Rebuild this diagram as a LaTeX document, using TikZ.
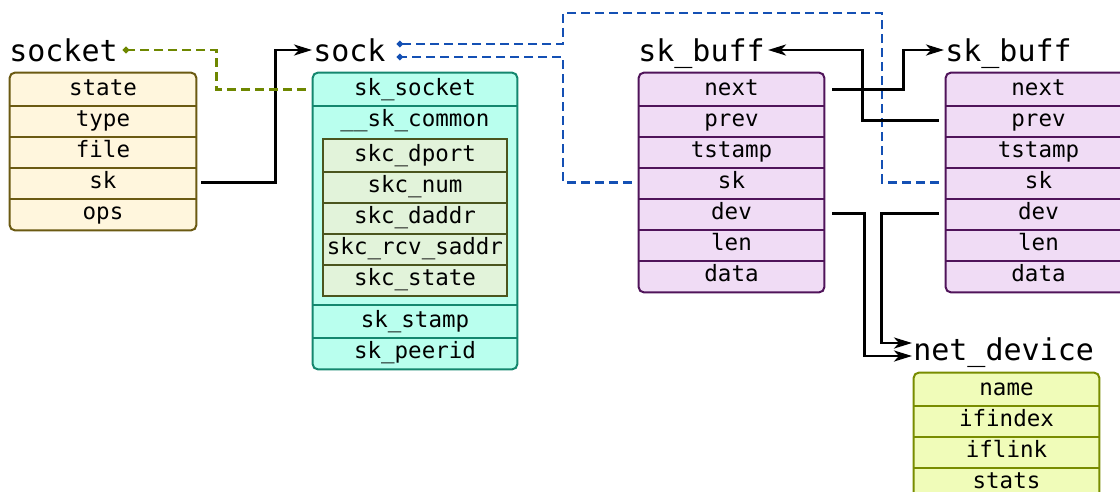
\documentclass[tikz,border=0pt]{standalone}
\usepackage{fontspec}
\setmonofont{DejaVu Sans Mono}
\usetikzlibrary{arrows.meta, fit, backgrounds}

\definecolor{socketfill}{HTML}{FFF6DD}
\definecolor{socketdraw}{HTML}{6B5A12}
\definecolor{sockfill}{HTML}{B9FFEE}
\definecolor{sockdraw}{HTML}{14876E}
\definecolor{comfill}{HTML}{E2F3DA}
\definecolor{comdraw}{HTML}{4B551E}
\definecolor{buffill}{HTML}{F0DCF5}
\definecolor{bufdraw}{HTML}{50145A}
\definecolor{devfill}{HTML}{F0FCB9}
\definecolor{devdraw}{HTML}{788C00}
\definecolor{olivedash}{HTML}{6E8700}
\definecolor{bluedash}{HTML}{1450B4}

\begin{document}
\begin{tikzpicture}[x=1pt, y=-1pt, line width=2.6pt,
      >={Stealth[length=18pt, width=11pt, inset=5pt]},
      title/.style={font=\fontsize{30}{32}\selectfont\ttfamily, inner sep=0pt,
                  text height=22pt, text depth=0pt, anchor=base west},
      fld/.style={font=\fontsize{22.5}{24}\selectfont\ttfamily, inner sep=0pt,
                  minimum height=31pt, text height=17pt, text depth=5pt},
      sbox/.style={draw, line width=2pt, inner sep=0pt, rounded corners=5pt},
      sep/.style={line width=2pt},
      ptr/.style={->, line width=2.6pt},
      gptr/.style={-{Circle[length=6pt]}, olivedash, line width=2.6pt,
                  dash pattern=on 9pt off 5pt},
      bptr/.style={-{Circle[length=6pt]}, bluedash, line width=2.6pt,
                  dash pattern=on 9pt off 5pt}]

    \useasboundingbox (0,0) rectangle (1120,491);
    \clip (0,0) rectangle (1120,491);

    % ---- socket ----
    \node[title] (sockett) at (8,61) {socket};
    \foreach \f [count=\i] in {state,type,file,sk,ops}
      \node[fld, minimum width=184pt] (so\i) at (103, 58.5+31*\i) {\f};
    \foreach \i in {1,...,4}
      \draw[sep, socketdraw] (so\i.south west) -- (so\i.south east);

    % ---- sock ----
    \node[title] (sockt) at (312,61) {sock};
    \node[fld, minimum width=202pt] (sk1) at (415,89.5) {sk\_socket};
    \node[fld, minimum width=202pt] (skcom) at (415,120.5) {\_\_sk\_common};
    \foreach \f [count=\i] in {skc\_dport,skc\_num,skc\_daddr,skc\_rcv\_saddr,skc\_state}
      \node[fld, minimum width=182pt] (skc\i) at (415, 124.5+31*\i) {\f};
    \node[fld, minimum width=202pt] (skst) at (415,321.5) {sk\_stamp};
    \node[fld, minimum width=202pt] (skpe) at (415,352.5) {sk\_peerid};
    \draw[sep, sockdraw] (sk1.south west) -- (sk1.south east);
    \draw[sep, sockdraw] (skst.north west) -- (skst.north east);
    \draw[sep, sockdraw] (skst.south west) -- (skst.south east);
    \foreach \i in {1,...,4}
      \draw[sep, comdraw] (skc\i.south west) -- (skc\i.south east);

    % ---- sk_buff (two of them) ----
    \node[title] (bt1) at (637,61) {sk\_buff};
    \node[title] (bt2) at (944,61) {sk\_buff};
    \foreach \f [count=\i] in {next,prev,tstamp,sk,dev,len,data} {
      \node[fld, minimum width=183pt] (ba\i) at (731.5, 58.5+31*\i) {\f};
      \node[fld, minimum width=183pt] (bb\i) at (1038.5, 58.5+31*\i) {\f};
    }
    \foreach \i in {1,...,6} {
      \draw[sep, bufdraw] (ba\i.south west) -- (ba\i.south east);
      \draw[sep, bufdraw] (bb\i.south west) -- (bb\i.south east);
    }

    % ---- net_device ----
    \node[title] (ndt) at (912,360) {net\_device};
    \foreach \f [count=\i] in {name,ifindex,iflink,stats}
      \node[fld, minimum width=183pt] (nd\i) at (1006.5, 358.5+31*\i) {\f};
    \foreach \i in {1,...,3}
      \draw[sep, devdraw] (nd\i.south west) -- (nd\i.south east);

    % ---- pointers ----
    \draw[ptr, shorten <=5pt] (so4.east) -- ++(79,0) |- (sockt.west);
    \draw[gptr, shorten <=7pt, shorten >=4pt] (sk1.west) -- ++(-96,0) |- (sockett.east);
    \draw[bptr, shorten <=7pt, shorten >=10pt] (bb4.west) -| (882,13) -| (563,44) -- ([yshift=6pt]sockt.east);
    \draw[bptr, shorten <=7pt, shorten >=10pt] (ba4.west) -| (563,57) -- ([yshift=-7pt]sockt.east);
    \draw[ptr, shorten <=8pt] (ba1.east) -- ++(79,0) |- (bt2.west);
    \draw[ptr, shorten <=7pt, shorten >=2pt] (bb2.west) -- ++(-83,0) |- (bt1.east);
    \draw[ptr, shorten <=8pt] (ba5.east) -- ++(40,0) |- ([yshift=-7pt]ndt.west);
    \draw[ptr, shorten <=7pt] (bb5.west) -- ++(-64,0) |- ([yshift=6pt]ndt.west);

    % ---- struct outlines ----
    \begin{scope}[on background layer]
    \node[sbox, draw=socketdraw, fill=socketfill, fit=(so1)(so5)] {};
    \node[sbox, draw=sockdraw, fill=sockfill, fit=(sk1)(skpe)] {};
    \node[draw=comdraw, fill=comfill, line width=2pt, inner sep=0pt, fit=(skc1)(skc5)] {};
    \node[sbox, draw=bufdraw, fill=buffill, fit=(ba1)(ba7)] {};
    \node[sbox, draw=bufdraw, fill=buffill, fit=(bb1)(bb7)] {};
    \node[sbox, draw=devdraw, fill=devfill, fit=(nd1)(nd4)] {};
    \end{scope}

\end{tikzpicture}
\end{document}
